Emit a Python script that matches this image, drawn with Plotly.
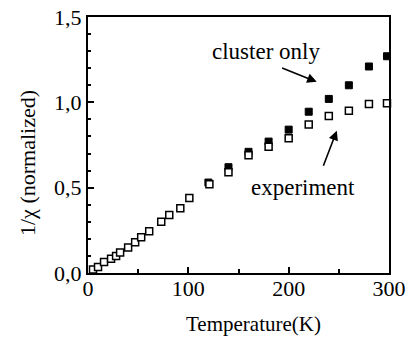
import plotly.graph_objects as go

# Experiment (open squares)
exp_T = [5, 10, 16, 23, 28, 32, 40, 47, 53, 61, 73, 81, 92, 101, 121, 140, 160, 180, 200, 220, 240, 260, 280, 298]
exp_y = [0.02, 0.035, 0.064, 0.084, 0.10, 0.12, 0.15, 0.18, 0.21, 0.245, 0.30, 0.34, 0.38, 0.44, 0.52, 0.59, 0.69, 0.74, 0.79, 0.87, 0.92, 0.95, 0.99, 0.995]

# Cluster only (filled squares)
clu_T = [120, 140, 160, 180, 200, 220, 240, 260, 280, 298]
clu_y = [0.53, 0.62, 0.71, 0.77, 0.84, 0.945, 1.02, 1.10, 1.21, 1.27]

font = "Liberation Serif, Times New Roman, serif"

W, H = 407, 337
L, R, T, B = 88, 18, 17, 64
pw, ph = W - L - R, H - T - B

def px(x):
    return (x - L) / pw

def py(y):
    return (H - B - y) / ph

fig = go.Figure()
fig.add_trace(go.Scatter(x=clu_T, y=clu_y, mode="markers",
                         marker=dict(symbol="square", size=7, color="black",
                                     line=dict(color="black", width=1)),
                         cliponaxis=False, showlegend=False))
fig.add_trace(go.Scatter(x=exp_T, y=exp_y, mode="markers",
                         marker=dict(symbol="square", size=7, color="white",
                                     line=dict(color="black", width=1.5)),
                         cliponaxis=False, showlegend=False))

fig.add_annotation(x=228, y=1.12, ax=192, ay=1.205, axref="x", ayref="y",
                   xref="x", yref="y", text="", showarrow=True,
                   arrowhead=2, arrowsize=1.2, arrowwidth=1.6, arrowcolor="black")
fig.add_annotation(x=248, y=0.834, ax=234, ay=0.62, axref="x", ayref="y",
                   xref="x", yref="y", text="", showarrow=True,
                   arrowhead=2, arrowsize=1.2, arrowwidth=1.6, arrowcolor="black")
fig.add_annotation(x=177, y=1.30, xref="x", yref="y", text="cluster only",
                   showarrow=False, font=dict(family=font, size=23, color="black"))
fig.add_annotation(x=214, y=0.50, xref="x", yref="y", text="experiment",
                   showarrow=False, font=dict(family=font, size=23, color="black"))
# axis titles placed as annotations
fig.add_annotation(x=px(27), y=py(163), xref="paper", yref="paper",
                   text="1/χ (normalized)", textangle=-90, showarrow=False,
                   xanchor="center", yanchor="middle",
                   font=dict(family=font, size=22, color="black"))
fig.add_annotation(x=px(253), y=py(324), xref="paper", yref="paper",
                   text="Temperature(K)", showarrow=False,
                   xanchor="center", yanchor="middle",
                   font=dict(family=font, size=21, color="black"))

fig.update_layout(
    width=W, height=H,
    margin=dict(l=L, r=R, t=T, b=B, autoexpand=False),
    paper_bgcolor="white", plot_bgcolor="white",
    separators=",.",
    font=dict(family=font, size=22, color="black"),
)
fig.update_xaxes(range=[0, 300], tickmode="linear", tick0=0, dtick=100,
                 ticks="inside", ticklen=6, tickwidth=1.5, tickcolor="black",
                 minor=dict(tickmode="linear", tick0=0, dtick=50, ticks="inside", ticklen=4, tickcolor="black"),
                 showline=True, linecolor="black", linewidth=2, mirror=True,
                 showgrid=False, zeroline=False, automargin=False,
                 ticklabelstandoff=-5,
                 tickfont=dict(family=font, size=22))
fig.update_yaxes(range=[0, 1.5], tickmode="linear", tick0=0, dtick=0.5, tickformat=".1f",
                 ticks="inside", ticklen=6, tickwidth=1.5, tickcolor="black",
                 minor=dict(tickmode="linear", tick0=0, dtick=0.1, ticks="inside", ticklen=3, tickcolor="black"),
                 showline=True, linecolor="black", linewidth=2, mirror=True,
                 showgrid=False, zeroline=False, automargin=False,
                 tickfont=dict(family=font, size=22))

fig.write_html("out.html")
